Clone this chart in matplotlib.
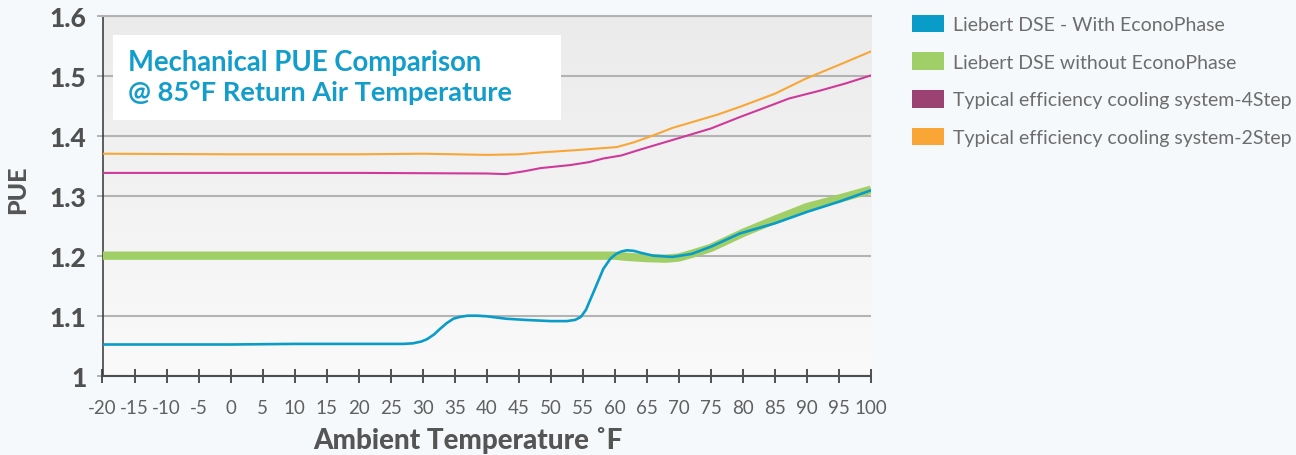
import numpy as np
import matplotlib
matplotlib.use('Agg')
import matplotlib.pyplot as plt
from matplotlib.patches import Patch, Rectangle

plt.rcParams['font.family'] = ['Lato', 'DejaVu Sans']

# ---- data (ambient temp F, PUE)
t_with = [-20, -10, 0, 10, 20, 27, 28.5, 29.8, 30.7, 31.8, 32.7, 33.8, 34.8, 35.8, 37, 38.5,
          40, 43, 46, 50, 52.5, 53.8, 54.7, 55.5, 56.7, 58.2, 59.3, 60.2, 61.0, 61.9, 63,
          64, 66, 69, 72, 75, 79.5, 85, 90, 95, 100]
pue_with = [1.052, 1.052, 1.052, 1.053, 1.053, 1.053, 1.054, 1.057, 1.061, 1.069, 1.078,
            1.088, 1.095, 1.098, 1.100, 1.100, 1.099, 1.095, 1.093, 1.091, 1.091, 1.093,
            1.098, 1.110, 1.140, 1.178, 1.195, 1.203, 1.207, 1.209, 1.208, 1.205, 1.200,
            1.198, 1.203, 1.215, 1.237, 1.254, 1.273, 1.290, 1.309]

t_without = [-20, 0, 20, 40, 60, 62, 65, 68, 70, 72, 75, 80, 85, 90, 95, 100]
pue_without = [1.2, 1.2, 1.2, 1.2, 1.2, 1.198, 1.196, 1.195, 1.197, 1.203, 1.213, 1.238,
               1.260, 1.281, 1.295, 1.31]

t_4step = [-20, 0, 20, 40, 43, 46, 48.4, 53, 56, 58.2, 61, 64, 70, 75, 79.5, 84, 87.2,
           92, 96, 100]
pue_4step = [1.338, 1.338, 1.338, 1.337, 1.336, 1.341, 1.346, 1.351, 1.356, 1.362, 1.367,
             1.377, 1.396, 1.412, 1.431, 1.449, 1.462, 1.475, 1.487, 1.5005]

t_2step = [-20, 0, 20, 30, 40, 45, 48.3, 54, 60.3, 63, 66, 69, 72.2, 76, 79.5, 85, 89.8,
           95, 100]
pue_2step = [1.370, 1.369, 1.369, 1.370, 1.368, 1.369, 1.372, 1.376, 1.381, 1.389, 1.4005,
             1.413, 1.423, 1.435, 1.448, 1.470, 1.495, 1.518, 1.5405]

xticks = list(range(-20, 101, 5))
yticks = [1.0, 1.1, 1.2, 1.3, 1.4, 1.5, 1.6]
ytick_labels = ['1', '1.1', '1.2', '1.3', '1.4', '1.5', '1.6']

labels = ['Liebert DSE - With EconoPhase', 'Liebert DSE without EconoPhase',
          'Typical efficiency cooling system-4Step', 'Typical efficiency cooling system-2Step']
legend_colors = ['#0a9cc8', '#a1cf67', '#9b4273', '#f9a636']

# ---- figure
fig = plt.figure(figsize=(12.96, 4.56), dpi=100)
fig.patch.set_facecolor('#f6f9fb')
ax = fig.add_axes([102.5 / 1296, 1 - 376.7 / 456, (871 - 102.5) / 1296, (376.7 - 16.7) / 456])
ax.set_xlim(-20, 100)
ax.set_ylim(1.0, 1.6)

# gradient background in plot area
grad = np.linspace(0, 1, 256).reshape(-1, 1)
cmap = matplotlib.colors.LinearSegmentedColormap.from_list('bg', ['#fafafa', '#ebebeb'])
ax.imshow(grad, extent=[-20, 100, 1.0, 1.6], origin='lower', aspect='auto', cmap=cmap, zorder=0)

ax.yaxis.grid(True, color='#b3b3b3', lw=1.5, zorder=1)
ax.set_axisbelow(True)

ax.plot(t_without, pue_without, color='#a1cf67', lw=6, solid_capstyle='butt', zorder=3)
ax.plot(t_with, pue_with, color='#0a9cc8', lw=1.9, zorder=4)
ax.plot(t_4step, pue_4step, color='#d0399a', lw=1.5, zorder=3)
ax.plot(t_2step, pue_2step, color='#f9a636', lw=1.5, zorder=3)

ax.spines['right'].set_visible(False)
ax.spines['top'].set_color('#b3b3b3')
ax.spines['top'].set_linewidth(1.5)
ax.spines['left'].set_color('#333333')
ax.spines['left'].set_linewidth(1.1)
ax.spines['bottom'].set_color('#4d4d4d')
ax.spines['bottom'].set_linewidth(1.5)

ax.set_xticks(xticks)
ax.set_xticklabels([str(v) for v in xticks])
ax.tick_params(axis='x', direction='inout', length=9.5, width=1.1, color='#222222',
               labelsize=13.5, labelcolor='#606060', pad=12)
ax.set_yticks(yticks)
ax.set_yticklabels(ytick_labels)
ax.tick_params(axis='y', direction='out', length=4.5, width=1.1, color='#a0a0a0',
               labelsize=19, labelcolor='#505050', pad=7)
for lb in ax.get_yticklabels():
    lb.set_fontweight(900)

# title box
ax.add_patch(Rectangle((113 / 1296, 1 - 120.7 / 456), (561 - 113) / 1296, (120.7 - 36) / 456,
                       transform=fig.transFigure, facecolor='white', edgecolor='none',
                       zorder=5, clip_on=False))
fig.text(128 / 1296, 1 - 70.7 / 456, 'Mechanical PUE Comparison', color='#139dcb',
         fontsize=19.8, fontweight='bold', va='baseline', ha='left', zorder=6)
fig.text(128 / 1296, 1 - 100.7 / 456, '@ 85°F Return Air Temperature', color='#139dcb',
         fontsize=19.6, fontweight='bold', va='baseline', ha='left', zorder=6)

# axis labels
fig.text(468 / 1296, 1 - 449 / 456, 'Ambient Temperature ˚F', color='#555555', fontsize=20,
         fontweight=900, ha='center', va='baseline')
fig.text(18 / 1296, 1 - 190 / 456, 'PUE', color='#555555', fontsize=18, fontweight=900,
         rotation=90, ha='center', va='center')

handles = [Patch(facecolor=c, edgecolor='none') for c in legend_colors]
fig.legend(handles, labels, loc='upper left', bbox_to_anchor=(912 / 1296, 1 - 15.5 / 456),
           frameon=False, fontsize=14, labelcolor='#6d6d6d', handlelength=1.65,
           handleheight=1.0, handletextpad=0.45, labelspacing=1.0, borderpad=0,
           borderaxespad=0)

fig.savefig('out.png', dpi=100, facecolor=fig.get_facecolor())
